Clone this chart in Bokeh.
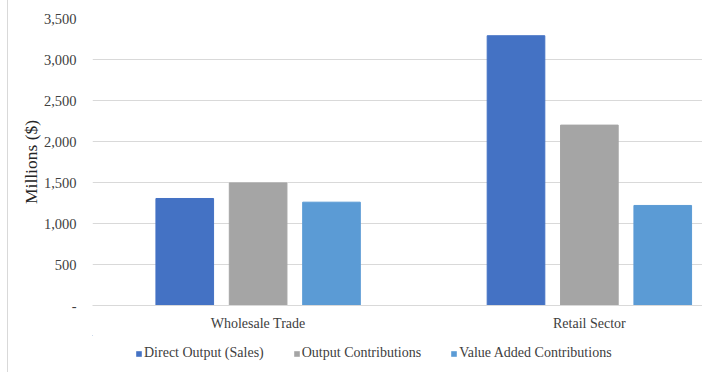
from bokeh.plotting import figure
from bokeh.layouts import column
from bokeh.models import (ColumnDataSource, Range1d, FixedTicker, Legend, LegendItem,
                          CustomJSTickFormatter)
from bokeh.embed import file_html
from bokeh.resources import INLINE

# Economic contribution by sector, millions of dollars
sectors = ["Wholesale Trade", "Retail Sector"]
series_names = ["Direct Output (Sales)", "Output Contributions", "Value Added Contributions"]
direct_output = [1305, 3290]
output_contributions = [1495, 2200]
value_added_contributions = [1260, 1220]
y_ticks = [0, 500, 1000, 1500, 2000, 2500, 3000, 3500]

colors = ["#4472C4", "#A5A5A5", "#5B9BD5"]
offsets = [-0.2215, 0.0, 0.2215]
bar_width = 0.174
FONT = "Liberation Serif"

centers = [i + 0.5 for i in range(len(sectors))]

p = figure(width=694, height=335, output_backend="svg", toolbar_location=None,
           x_range=Range1d(0, 1.8415), y_range=Range1d(0, 3500),
           min_border_left=84, min_border_right=0, min_border_top=18, min_border_bottom=30)
p.outline_line_color = None
p.background_fill_color = "white"
p.border_fill_color = "white"

sources = []
for name, vals, color, off in zip(series_names,
                                  [direct_output, output_contributions, value_added_contributions],
                                  colors, offsets):
    src = ColumnDataSource(dict(x=[c + off for c in centers], top=vals))
    p.vbar(x="x", top="top", width=bar_width, source=src, color=color, line_color=color)
    sources.append(src)

# Y axis
p.yaxis.ticker = FixedTicker(ticks=y_ticks)
p.yaxis.formatter = CustomJSTickFormatter(code="""
    if (tick == 0) return "-";
    return tick.toLocaleString("en-US");
""")
p.yaxis.axis_label = "Millions ($)"
p.yaxis.axis_label_text_font = FONT
p.yaxis.axis_label_text_font_size = "17.5px"
p.yaxis.axis_label_text_font_style = "normal"
p.yaxis.axis_label_text_color = "#262626"
p.yaxis.axis_label_standoff = 0
p.yaxis.major_label_text_font = FONT
p.yaxis.major_label_text_font_size = "14.5px"
p.yaxis.major_label_text_color = "#404040"
p.yaxis.major_label_standoff = 10
p.yaxis.axis_line_color = None
p.yaxis.major_tick_line_color = None
p.yaxis.minor_tick_line_color = None

# X axis with sector names
p.xaxis.ticker = FixedTicker(ticks=centers)
p.xaxis.major_label_overrides = {c: s for c, s in zip(centers, sectors)}
p.xaxis.major_label_text_font = FONT
p.xaxis.major_label_text_font_size = "14px"
p.xaxis.major_label_text_color = "#404040"
p.xaxis.major_label_standoff = 4
p.xaxis.axis_line_color = "#d9d9d9"
p.xaxis.major_tick_line_color = None
p.xaxis.minor_tick_line_color = None

p.xgrid.grid_line_color = None
p.ygrid.grid_line_color = "#d9d9d9"
p.ygrid.ticker = FixedTicker(ticks=y_ticks)

# Legend strip under the chart (its frame lines up with the chart's frame).
# The swatch renderers share the bar sources; their bars sit far outside this strip's ranges.
leg = figure(width=694, height=37, output_backend="svg", toolbar_location=None,
             x_range=Range1d(100, 101), y_range=Range1d(-100000, -99999),
             min_border_left=0, min_border_right=0, min_border_top=0, min_border_bottom=0)
leg.axis.visible = False
leg.grid.visible = False
leg.outline_line_color = None
leg.border_fill_color = "white"
leg.background_fill_color = "white"
swatches = [leg.vbar(x="x", top="top", width=bar_width, source=s, fill_color=c, line_color=None)
            for s, c in zip(sources, colors)]

legend = Legend(items=[LegendItem(label=n, renderers=[r]) for n, r in zip(series_names, swatches)],
                orientation="horizontal", location=(43, 11),
                glyph_width=7, glyph_height=7, label_standoff=2, spacing=29,
                padding=0, margin=0, border_line_color=None, background_fill_alpha=0,
                label_text_font=FONT, label_text_font_size="14px", label_text_color="#404040",
                label_height=14)
leg.add_layout(legend, "center")

layout = column(p, leg, spacing=0)
layout.margin = (0, 0, 0, 7)
layout.styles = {"border-left": "1px solid #d9d9d9"}

open("out.html", "w").write(file_html(layout, INLINE))
